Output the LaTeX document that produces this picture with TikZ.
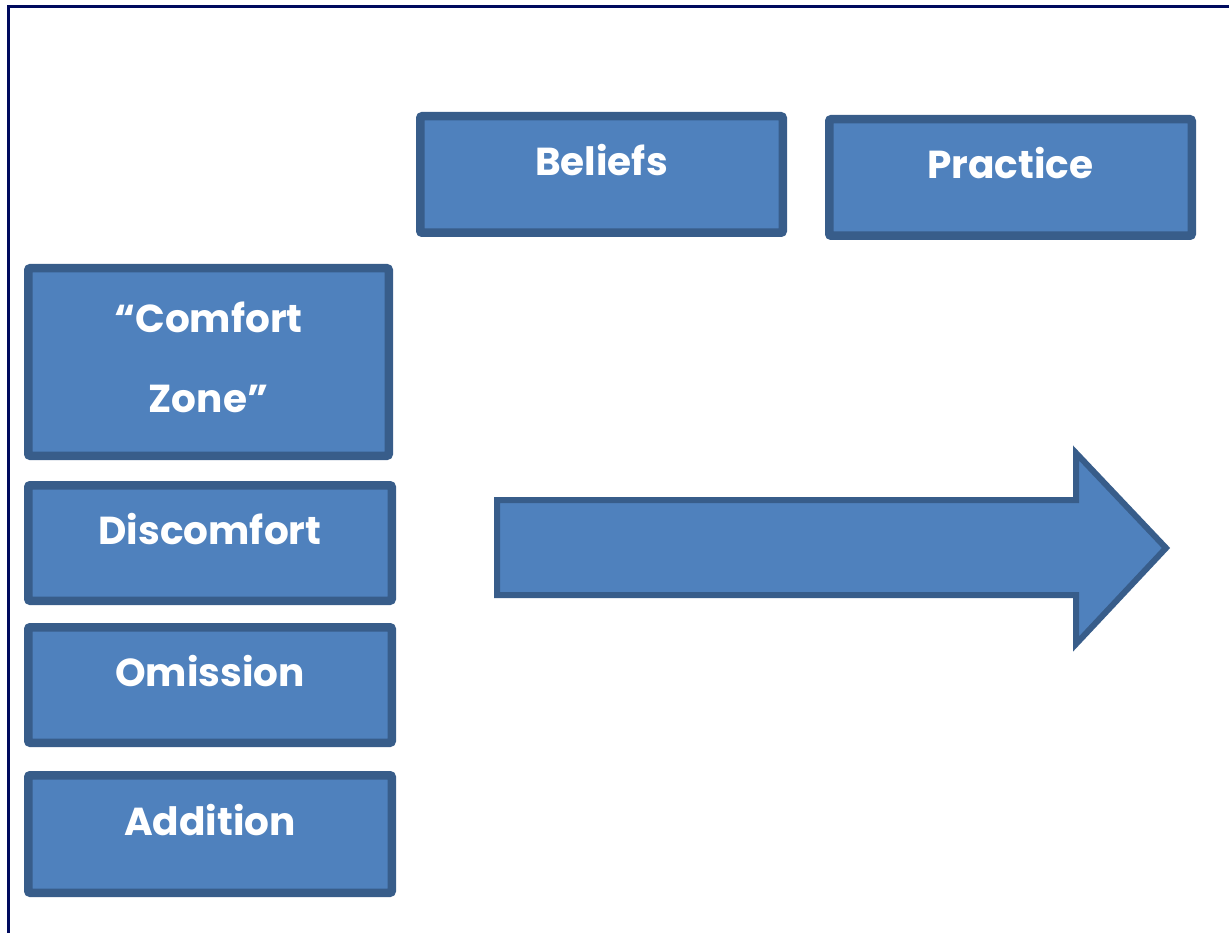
\documentclass[tikz,border=0pt]{standalone}
\usepackage{fontspec}
\newfontfamily\lblfont{Poppins}
\definecolor{boxfill}{HTML}{4F81BD}
\definecolor{boxline}{HTML}{385D8A}
\definecolor{frameline}{HTML}{000B5E}
\begin{document}
\begin{tikzpicture}[x=1pt,y=-1pt,
  box/.style={draw=boxline, fill=boxfill, line width=8.5pt, rounded corners=2pt, inner sep=0pt, anchor=north west},
  lbl/.style={text=white, font=\lblfont\bfseries\fontsize{39}{80}\selectfont, align=center, inner sep=0pt}]
\useasboundingbox (0,0) rectangle (1229,933);
\fill[white] (0,0) rectangle (1229,933);
\draw[frameline, line width=3pt] (8,1000) -- (8,7) -- (1300,7);
% top boxes
\node[box, minimum width=362.5pt, minimum height=116.5pt] (beliefs) at (416,112) {};
\node[box, minimum width=362.5pt, minimum height=116.5pt] (practice) at (825,115) {};
% left column
\node[box, minimum width=360.5pt, minimum height=187.5pt] (comfort) at (24,264) {};
\node[box, minimum width=363.5pt, minimum height=115.5pt] (discomfort) at (24,481) {};
\node[box, minimum width=363.5pt, minimum height=115.5pt] (omission) at (24,623) {};
\node[box, minimum width=363.5pt, minimum height=117.5pt] (addition) at (24,771) {};
% labels
\node[lbl] (tb) at ([yshift=14pt]beliefs.center) {Beliefs};
\node[lbl] (tp) at ([yshift=14pt]practice.center) {Practice};
\node[lbl] (tc) at ([yshift=5pt]comfort.center) {“Comfort\\Zone”};
\node[lbl] (td) at ([yshift=14pt]discomfort.center) {Discomfort};
\node[lbl] (to) at ([yshift=14pt]omission.center) {Omission};
\node[lbl] (ta) at ([yshift=14pt]addition.center) {Addition};
% big arrow
\coordinate (a1) at (497,500);
\coordinate (a2) at (1076,500);
\coordinate (a3) at (1076,453);
\coordinate (a4) at (1166,548);
\coordinate (a5) at (1076,644);
\coordinate (a6) at (1076,595);
\coordinate (a7) at (497,595);
\draw[draw=boxline, fill=boxfill, line width=6pt, miter limit=10] (a1) -- (a2) -- (a3) -- (a4) -- (a5) -- (a6) -- (a7) -- cycle;
\end{tikzpicture}
\end{document}
